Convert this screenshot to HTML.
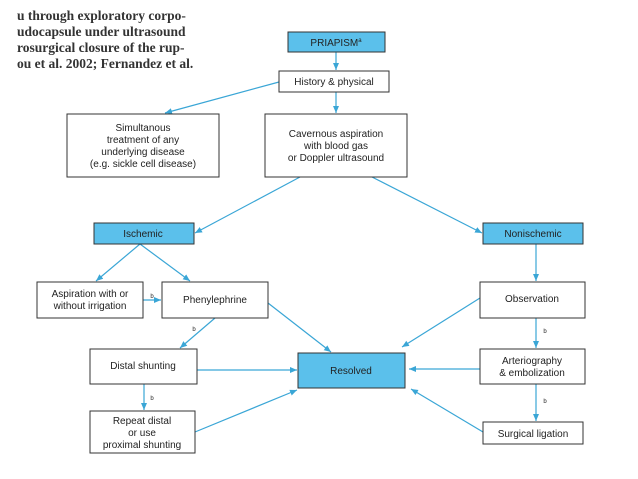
<!DOCTYPE html>
<html><head><meta charset="utf-8"><style>
body{margin:0;background:#fff}
svg{display:block}
text{font-family:"Liberation Sans",sans-serif;font-size:10px;fill:#222;text-anchor:middle}
.s{font-family:"Liberation Serif",serif;font-size:13.5px;text-anchor:start;fill:#333;font-weight:bold}
.b{font-size:6px}
</style></head><body>
<svg width="638" height="479" viewBox="0 0 638 479" xmlns="http://www.w3.org/2000/svg">
<defs><marker id="a" markerWidth="8" markerHeight="8" refX="7" refY="4" orient="auto" markerUnits="userSpaceOnUse"><path d="M0,1 L7,4 L0,7 z" fill="#3aa6d6"/></marker></defs>
<text class="s" x="17" y="20">u through exploratory corpo-</text>
<text class="s" x="17" y="36">udocapsule under ultrasound</text>
<text class="s" x="17" y="52">rosurgical closure of the rup-</text>
<text class="s" x="17" y="68">ou et al. 2002; Fernandez et al.</text>
<g stroke="#3aa6d6" stroke-width="1.2" fill="none" marker-end="url(#a)">
<line x1="336" y1="52" x2="336" y2="70"/>
<line x1="279" y1="82" x2="165" y2="113"/>
<line x1="336" y1="92" x2="336" y2="113"/>
<line x1="300" y1="177" x2="195" y2="233"/>
<line x1="372" y1="177" x2="482" y2="233"/>
<line x1="140" y1="244" x2="96" y2="281"/>
<line x1="140" y1="244" x2="190" y2="281"/>
<line x1="143" y1="300" x2="161" y2="300"/>
<line x1="215" y1="318" x2="180" y2="348"/>
<line x1="268" y1="303" x2="331" y2="352"/>
<line x1="197" y1="370" x2="297" y2="370"/>
<line x1="144" y1="384" x2="144" y2="410"/>
<line x1="195" y1="432" x2="297" y2="390"/>
<line x1="536" y1="244" x2="536" y2="281"/>
<line x1="480" y1="298" x2="402" y2="347"/>
<line x1="536" y1="318" x2="536" y2="348"/>
<line x1="480" y1="369" x2="409" y2="369"/>
<line x1="536" y1="384" x2="536" y2="421"/>
<line x1="483" y1="432" x2="411" y2="389"/>
</g>
<g stroke="#333" stroke-width="1">
<rect x="288" y="32" width="97" height="20" fill="#5bc0eb"/>
<rect x="279" y="71" width="110" height="21" fill="#fff"/>
<rect x="67" y="114" width="152" height="63" fill="#fff"/>
<rect x="265" y="114" width="142" height="63" fill="#fff"/>
<rect x="94" y="223" width="100" height="21" fill="#5bc0eb"/>
<rect x="483" y="223" width="100" height="21" fill="#5bc0eb"/>
<rect x="37" y="282" width="106" height="36" fill="#fff"/>
<rect x="162" y="282" width="106" height="36" fill="#fff"/>
<rect x="480" y="282" width="105" height="36" fill="#fff"/>
<rect x="90" y="349" width="107" height="35" fill="#fff"/>
<rect x="298" y="353" width="107" height="35" fill="#5bc0eb"/>
<rect x="480" y="349" width="105" height="35" fill="#fff"/>
<rect x="90" y="411" width="105" height="42" fill="#fff"/>
<rect x="483" y="422" width="100" height="22" fill="#fff"/>
</g>
<text x="336" y="46">PRIAPISM<tspan font-size="6" dy="-4">a</tspan></text>
<text x="334" y="85">History &amp; physical</text>
<text x="143" y="131">Simultanous</text>
<text x="143" y="143">treatment of any</text>
<text x="143" y="155">underlying disease</text>
<text x="143" y="167">(e.g. sickle cell disease)</text>
<text x="336" y="137">Cavernous aspiration</text>
<text x="336" y="149">with blood gas</text>
<text x="336" y="161">or Doppler ultrasound</text>
<text x="143" y="237">Ischemic</text>
<text x="533" y="237">Nonischemic</text>
<text x="90" y="297">Aspiration with or</text>
<text x="90" y="309">without irrigation</text>
<text x="215" y="303">Phenylephrine</text>
<text x="532" y="302">Observation</text>
<text x="143" y="369">Distal shunting</text>
<text x="351" y="374">Resolved</text>
<text x="532" y="364">Arteriography</text>
<text x="532" y="376">&amp; embolization</text>
<text x="142" y="424">Repeat distal</text>
<text x="142" y="436">or use</text>
<text x="142" y="448">proximal shunting</text>
<text x="533" y="437">Surgical ligation</text>
<text class="b" x="152" y="298">b</text>
<text class="b" x="194" y="331">b</text>
<text class="b" x="152" y="400">b</text>
<text class="b" x="545" y="333">b</text>
<text class="b" x="545" y="403">b</text>
</svg>
</body></html>
